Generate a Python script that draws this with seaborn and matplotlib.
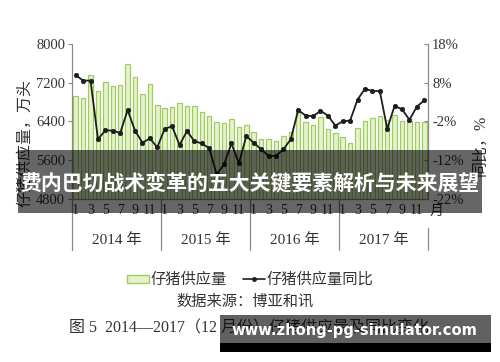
import matplotlib
matplotlib.use('Agg')
import matplotlib.pyplot as plt
import matplotlib.transforms as mtransforms
import seaborn as sns
import pandas as pd
from matplotlib.patches import Patch, Rectangle
from matplotlib.lines import Line2D

# ---------------- data ----------------
year_labels = ['2014 年', '2015 年', '2016 年', '2017 年']
month_ticks = ['1', '3', '5', '7', '9', '11']

supply_2014 = [6915, 6880, 7352, 7033, 7213, 7123, 7158, 7588, 7317, 6963, 7179, 6727]
supply_2015 = [6680, 6690, 6770, 6720, 6720, 6590, 6520, 6390, 6365, 6440, 6285, 6330]
supply_2016 = [6180, 6045, 6033, 6005, 6090, 6190, 6620, 6380, 6315, 6484, 6250, 6160]
supply_2017 = [6080, 5960, 6270, 6400, 6470, 6520, 6430, 6535, 6405, 6415, 6390, 6395]

yoy_2014 = [9.9, 8.5, 8.5, -6.6, -4.3, -4.4, -5.0, 0.9, -4.4, -7.5, -6.4, -8.7]
yoy_2015 = [-3.9, -3.3, -8.1, -4.5, -7.1, -7.7, -8.9, -15.6, -13.1, -7.7, -12.8, -5.8]
yoy_2016 = [-7.5, -9.2, -10.9, -10.9, -9.2, -6.6, 0.9, -0.5, -0.7, 0.7, -0.5, -3.1]
yoy_2017 = [-2.0, -1.8, 3.6, 6.4, 5.8, 5.8, -3.9, 2.0, 1.1, -1.6, 1.8, 3.4]

left_ticks = [4800, 5600, 6400, 7200, 8000]
right_ticks = [-22, -12, -2, 8, 18]

legend_bar = '仔猪供应量'
legend_line = '仔猪供应量同比'
left_label = '仔猪供应量，万头'
right_label = '同比，%'
source_text = '数据来源：博亚和讯'
caption_text = '图 5  2014—2017（12 月份）仔猪供应量及同比变化'
banner_text = '费内巴切战术变革的五大关键要素解析与未来展望'
watermark_text = 'www.zhong-pg-simulator.com'

supply = supply_2014 + supply_2015 + supply_2016 + supply_2017
yoy = yoy_2014 + yoy_2015 + yoy_2016 + yoy_2017
df = pd.DataFrame({'idx': list(range(len(supply))), 'supply': supply, 'yoy': yoy})

# ---------------- style ----------------
sns.set_style('white')
plt.rcParams['font.family'] = ['Liberation Serif', 'Noto Sans CJK SC']
text_col = '#333333'
spine_col = '#8a8a8a'
bar_face = '#e6f2cc'
bar_edge = '#9fcd62'
line_col = '#1e1e1e'

W, H = 500, 362
fig = plt.figure(figsize=(W / 100, H / 100), dpi=100)
ax_l, ax_r, ax_t, ax_b = 72, 428, 43.7, 199
ax = fig.add_axes([ax_l / W, 1 - ax_b / H, (ax_r - ax_l) / W, (ax_b - ax_t) / H])

sns.barplot(data=df, x='idx', y='supply', ax=ax, color=bar_face, edgecolor=bar_edge,
            linewidth=0.9, width=0.6, saturation=1)
ax.set_ylim(4800, 8000)

ax2 = ax.twinx()
sns.lineplot(data=df, x='idx', y='yoy', ax=ax2, color=line_col, linewidth=1.3,
             marker='o', markersize=3.2, markeredgecolor=line_col, markeredgewidth=0.5)
ax2.set_ylim(-22, 18)
ax.set_xlim(-0.5, 47.5)

# ticks
xt = [i for i in range(48) if i % 12 in (0, 2, 4, 6, 8, 10)]
ax.set_xticks(xt)
ax.set_xticklabels(month_ticks * 4, fontsize=10, color=text_col)
ax.tick_params(axis='x', length=0, pad=3.5)
ax.set_yticks(left_ticks)
ax.set_yticklabels([str(v) for v in left_ticks], fontsize=10.5, color=text_col)
ax.tick_params(axis='y', length=3, width=0.8, color=spine_col, direction='out', pad=2)
ax2.set_yticks(right_ticks)
ax2.set_yticklabels([f'{v}%' for v in right_ticks], fontsize=10.5, color=text_col)
ax2.tick_params(axis='y', length=3, width=0.8, color=spine_col, direction='in', pad=3)
ax.set_xlabel('')
ax.set_ylabel('')
ax2.set_xlabel('')
ax2.set_ylabel('')

for a in (ax, ax2):
    a.spines['top'].set_visible(False)
    for s in ('left', 'right', 'bottom'):
        a.spines[s].set_color(spine_col)
        a.spines[s].set_linewidth(0.9)
ax.spines['right'].set_visible(False)
ax2.spines['left'].set_visible(False)
ax2.spines['bottom'].set_visible(False)

# year dividers and year labels
trans = mtransforms.blended_transform_factory(ax.transData, ax.transAxes)
ph = ax_b - ax_t
y_low = -(250 - ax_b) / ph
for xb in (-0.5, 11.5, 23.5, 35.5):
    ax.plot([xb, xb], [0, y_low], transform=trans, color=spine_col, lw=0.9, clip_on=False)
ax.plot([47.5, 47.5], [-(228 - ax_b) / ph, y_low], transform=trans, color=spine_col, lw=0.9, clip_on=False)
for k, lab in enumerate(year_labels):
    ax.text(k * 12 + 5.5, -(240 - ax_b) / ph, lab, transform=trans, ha='center', va='center',
            fontsize=11, color=text_col)
fig.text(437 / W, 1 - 211 / H, '月', ha='center', va='center', fontsize=10, color=text_col)

# axis titles
fig.text(25 / W, 1 - 143 / H, left_label, rotation=90, ha='center', va='center',
         fontsize=11.5, color=text_col)
fig.text(480 / W, 1 - 145 / H, right_label, rotation=90, ha='center', va='center',
         fontsize=11.5, color=text_col)

# legend
handles = [Patch(facecolor=bar_face, edgecolor=bar_edge, linewidth=1.0),
           Line2D([0], [0], color=line_col, lw=1.2, marker='o', markersize=2.5)]
fig.legend(handles, [legend_bar, legend_line], loc='center', bbox_to_anchor=(0.5, 1 - 280 / H),
           ncol=2, frameon=False, fontsize=11, handlelength=1.4, handleheight=0.45,
           handletextpad=0.1, columnspacing=1.1, labelcolor=text_col)

fig.text(245 / W, 1 - 302 / H, source_text, ha='center', va='center', fontsize=11, color=text_col)
fig.text(249 / W, 1 - 328 / H, caption_text, ha='center', va='center', fontsize=11.5, color=text_col)

# banner overlay
fig.patches.append(Rectangle((18 / W, 1 - 212.7 / H), 464 / W, 62.7 / H, transform=fig.transFigure,
                             facecolor='black', alpha=0.6, edgecolor='none', zorder=10))
fig.text(250 / W, 1 - 183 / H, banner_text, ha='center', va='center', fontsize=15,
         fontweight='bold', color='white', family=['Noto Sans CJK SC'], zorder=11)

# watermark overlay
fig.patches.append(Rectangle((220 / W, 1 - 343 / H), 271 / W, 28 / H, transform=fig.transFigure,
                             facecolor='black', alpha=0.62, edgecolor='none', zorder=10))
fig.patches.append(Rectangle((220 / W, 1 - 352 / H), 271 / W, 9 / H, transform=fig.transFigure,
                             facecolor='black', alpha=1.0, edgecolor='none', zorder=10))
fig.text(354 / W, 1 - 330 / H, watermark_text, ha='center', va='center', fontsize=10.6,
         fontweight='bold', color='white', family=['DejaVu Sans'], zorder=11)

fig.savefig('out.png', dpi=100)
